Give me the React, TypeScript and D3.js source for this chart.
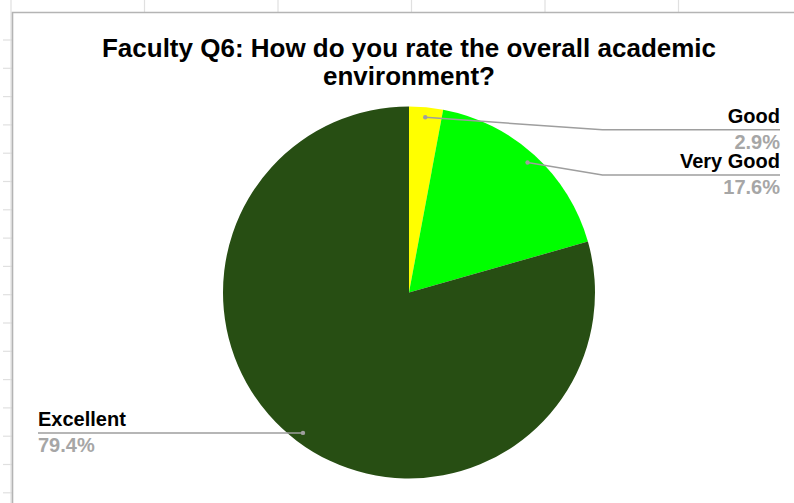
import React, { useRef, useEffect } from 'react';
import * as d3 from 'd3';

// responses per rating (1 / 6 / 27 of 34 faculty)
const categories = ['Good', 'Very Good', 'Excellent'];
const counts = [1, 6, 27];
const sliceColors = ['#ffff00', '#00ff00', '#274e13'];
const titleLines = ['Faculty Q6: How do you rate the overall academic', 'environment?'];

const W = 794;
const H = 503;
const FONT = '"Liberation Sans", Arial, sans-serif';

const PieChart = () => {
  const ref = useRef(null);

  useEffect(() => {
    if (!ref.current) return;
    const svg = d3.select(ref.current);
    svg.selectAll('*').remove();

    // spreadsheet backdrop (column lines above, row ticks on the left)
    const sheet = svg.append('g');
    const colXs = d3.range(11, W, 133.5);
    sheet.selectAll('line.col')
      .data(colXs)
      .enter()
      .append('line')
      .attr('x1', d => d).attr('x2', d => d)
      .attr('y1', 0).attr('y2', d => (d < 20 ? H : 12))
      .attr('stroke', '#e0e0e0')
      .attr('stroke-width', 1.2);
    sheet.selectAll('line.row')
      .data(d3.range(40, H, 28.3))
      .enter()
      .append('line')
      .attr('x1', 3).attr('x2', 12)
      .attr('y1', d => d).attr('y2', d => d)
      .attr('stroke', '#e0e0e0')
      .attr('stroke-width', 1.2);

    // chart box border
    svg.append('path')
      .attr('d', `M12.5,${H} V12.5 H${W}`)
      .attr('fill', 'none')
      .attr('stroke', '#b4b4b4')
      .attr('stroke-width', 1.6);

    const cx = 409;
    const cy = 292.5;
    const radius = 186;

    // title
    svg.append('text')
      .attr('x', cx)
      .attr('text-anchor', 'middle')
      .style('font-family', FONT)
      .style('font-weight', 'bold')
      .style('font-size', '26px')
      .attr('fill', '#000')
      .selectAll('tspan')
      .data(titleLines)
      .enter()
      .append('tspan')
      .attr('x', cx)
      .attr('y', (d, i) => 57 + i * 28)
      .text(d => d);

    const data = categories.map((c, i) => ({ label: c, value: counts[i], color: sliceColors[i] }));
    const total = d3.sum(counts);

    const pie = d3.pie().value(d => d.value).sort(null);
    const arcs = pie(data);
    const arc = d3.arc().innerRadius(0).outerRadius(radius);

    const g = svg.append('g').attr('transform', `translate(${cx},${cy})`);
    g.selectAll('path')
      .data(arcs)
      .enter()
      .append('path')
      .attr('d', arc)
      .attr('fill', d => d.data.color)
      .attr('stroke', 'none');

    // callouts
    const dotR = radius * 0.946;
    const labelRight = 780;
    const labelLeft = 38;
    const kinkX = cx + radius * 1.04;

    arcs.forEach(a => {
      const mid = (a.startAngle + a.endAngle) / 2;
      const dx = cx + Math.sin(mid) * dotR;
      const dy = cy - Math.cos(mid) * dotR;
      const right = Math.sin(mid) > 0;
      const ly = right ? dy + 12.5 : dy;
      const pct = d3.format('.1%')(a.data.value / total);

      const pts = right
        ? [[dx, dy], [kinkX, ly], [labelRight, ly]]
        : [[dx, dy], [labelLeft, ly]];
      svg.append('path')
        .attr('d', d3.line()(pts))
        .attr('fill', 'none')
        .attr('stroke', '#9e9e9e')
        .attr('stroke-width', 1.5);
      svg.append('circle')
        .attr('cx', dx).attr('cy', dy).attr('r', 2.2)
        .attr('fill', '#9e9e9e');

      const tx = right ? labelRight : labelLeft;
      const anchor = right ? 'end' : 'start';
      svg.append('text')
        .attr('x', tx).attr('y', ly - 7)
        .attr('text-anchor', anchor)
        .style('font-family', FONT)
        .style('font-weight', 'bold')
        .style('font-size', '20px')
        .attr('fill', '#000')
        .text(a.data.label);
      svg.append('text')
        .attr('x', tx).attr('y', ly + 19)
        .attr('text-anchor', anchor)
        .style('font-family', FONT)
        .style('font-weight', 'bold')
        .style('font-size', '20px')
        .attr('fill', '#a6a6a6')
        .text(pct);
    });
  }, []);

  return (
    <svg
      ref={ref}
      width={W}
      height={H}
      style={{ position: 'absolute', left: 0, top: 0, background: '#fff' }}
    />
  );
};

export default function App() {
  return <PieChart />;
}
